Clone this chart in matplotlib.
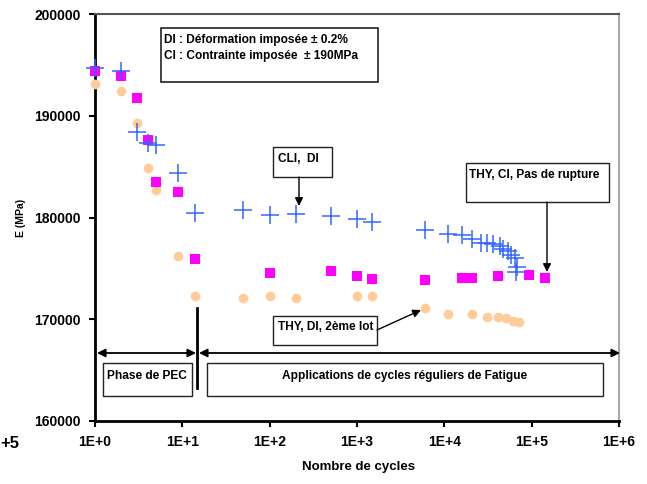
import matplotlib
matplotlib.use('Agg')
import matplotlib.pyplot as plt
from matplotlib.patches import Rectangle

plt.rcParams['font.family'] = ['Liberation Sans', 'DejaVu Sans']
plt.rcParams['font.weight'] = 'bold'

# CLI, DI (blue crosses)
n_cli = [1, 2, 3, 4, 5, 9, 14, 50, 100, 200, 500, 1000, 1500, 6000, 11000,
         16000, 21000, 26000, 31000, 36000, 43000, 47500, 53000, 58000, 64500, 68000, 66000]
e_cli = [194700, 194400, 188400, 187300, 187100, 184400, 180400, 180700, 180250, 180350, 180150, 179900, 179550, 178750, 178350,
         178250, 177930, 177500, 177500, 177440, 177170, 176950, 176700, 176350, 176000, 175100, 174600]

# THY, CI, Pas de rupture (magenta squares)
n_thy_ci = [1, 2, 3, 4, 5, 9, 14, 100, 500, 1000, 1500, 6000, 16000, 21000, 41000, 92000, 143000]
e_thy_ci = [194400, 193900, 191700, 187600, 183500, 182500, 175900, 174500, 174750, 174250, 173950, 173850, 174100, 174100, 174250, 174350, 174100]

# THY, DI, 2eme lot (orange circles)
n_thy_di = [1, 2, 3, 4, 5, 9, 14, 50, 100, 200, 1000, 1500, 6000, 11000, 21000, 30500, 41000, 51000, 60500, 72000]
e_thy_di = [193100, 192400, 189300, 184900, 182700, 176200, 172300, 172050, 172300, 172050, 172300, 172300, 171150, 170550, 170550, 170180, 170180, 170150, 169850, 169750]

x_ticks = [1, 10, 100, 1000, 1e4, 1e5, 1e6]
x_labels = ['1E+0', '1E+1', '1E+2', '1E+3', '1E+4', '1E+5', '1E+6']
y_ticks = [160000, 170000, 180000, 190000, 200000]

W, H = 647, 484
L, R, T, B = 95, 619, 14, 421

fig = plt.figure(figsize=(W / 100, H / 100), dpi=100)
ax = fig.add_axes([L / W, 1 - B / H, (R - L) / W, (B - T) / H])


def af(x, y):
    # pixel position -> axes fraction
    return ((x - L) / (R - L), (B - y) / (B - T))


ax.plot(n_thy_di, e_thy_di, 'o', color='#FFCC99', markersize=7, markeredgewidth=0, zorder=3, clip_on=False)
ax.plot(n_thy_ci, e_thy_ci, 's', color='#FF00FF', markersize=7, markeredgewidth=0, zorder=4, clip_on=False)
ax.plot(n_cli, e_cli, '+', color='#3366FF', markersize=13, markeredgewidth=1.1, zorder=5, clip_on=False)

ax.set_xscale('log')
ax.set_xlim(1, 1e6)
ax.set_ylim(160000, 200000)
ax.set_xticks(x_ticks)
ax.set_xticklabels(x_labels)
ax.minorticks_off()
ax.set_yticks(y_ticks)
ax.tick_params(axis='both', labelsize=10, width=1.5, length=4, direction='out', pad=6)
for lab in ax.get_xticklabels() + ax.get_yticklabels():
    lab.set_fontweight('bold')

ax.spines['left'].set_linewidth(2)
ax.spines['bottom'].set_linewidth(2)
ax.spines['top'].set_color('#555555')
ax.spines['top'].set_linewidth(1.5)
ax.spines['right'].set_color('#A8A8A8')
ax.spines['right'].set_linewidth(1.5)

ax.set_ylabel('E (MPa)', fontsize=7.5, fontweight='bold', labelpad=0)
ax.yaxis.set_label_coords((26 - L) / (R - L), 0.5)
fig.text(358 / W, 1 - 467 / H, 'Nombre de cycles', fontsize=9.5, fontweight='bold', ha='center', va='center')
fig.text(0, 1 - 443 / H, '+5', fontsize=12, fontweight='bold', ha='left', va='center')

FS = 8.6


def box(x0, y0, x1, y1, lw=1.0):
    p0 = af(x0, y1)
    p1 = af(x1, y0)
    ax.add_patch(Rectangle(p0, p1[0] - p0[0], p1[1] - p0[1], transform=ax.transAxes,
                           facecolor='white', edgecolor='#222222', lw=lw, zorder=6, clip_on=False))


def label(x, y, s, ha='left'):
    ax.text(*af(x, y), s, transform=ax.transAxes, fontsize=FS, fontweight='bold',
            va='center', ha=ha, zorder=8)


def arrow(x0, y0, x1, y1, style='-|>', lw=1.0):
    ax.annotate('', xy=af(x1, y1), xytext=af(x0, y0), xycoords='axes fraction',
                textcoords='axes fraction',
                arrowprops=dict(arrowstyle=style, color='black', lw=lw, mutation_scale=12,
                                shrinkA=0, shrinkB=0), zorder=7)


# legend box
box(161, 28, 378, 82, lw=1.2)
label(164, 40, 'DI : Déformation imposée ± 0.2%')
label(164, 56, 'CI : Contrainte imposée  ± 190MPa')

# CLI, DI
box(273, 147, 332, 177)
label(278, 159, 'CLI,  DI')
arrow(299, 177, 299, 206)

# THY, DI, 2eme lot
box(273, 316, 377, 345)
label(278, 327, 'THY, DI, 2ème lot')
arrow(377, 330, 421, 310)

# THY, CI, Pas de rupture
box(466, 163, 609, 202)
label(469, 175, 'THY, CI, Pas de rupture')
arrow(547, 202, 547, 272)

# phases
ax.plot(*zip(af(197, 308), af(197, 388)), transform=ax.transAxes, color='black', lw=2, zorder=7, clip_on=False)
arrow(97, 353, 196, 353, style='<|-|>', lw=1.3)
arrow(199, 353, 620, 353, style='<|-|>', lw=1.3)
box(103, 363, 192, 396)
label(147, 376, 'Phase de PEC', ha='center')
box(207, 363, 603, 396)
label(405, 376, 'Applications de cycles réguliers de Fatigue', ha='center')

fig.savefig('out.png', dpi=100)
